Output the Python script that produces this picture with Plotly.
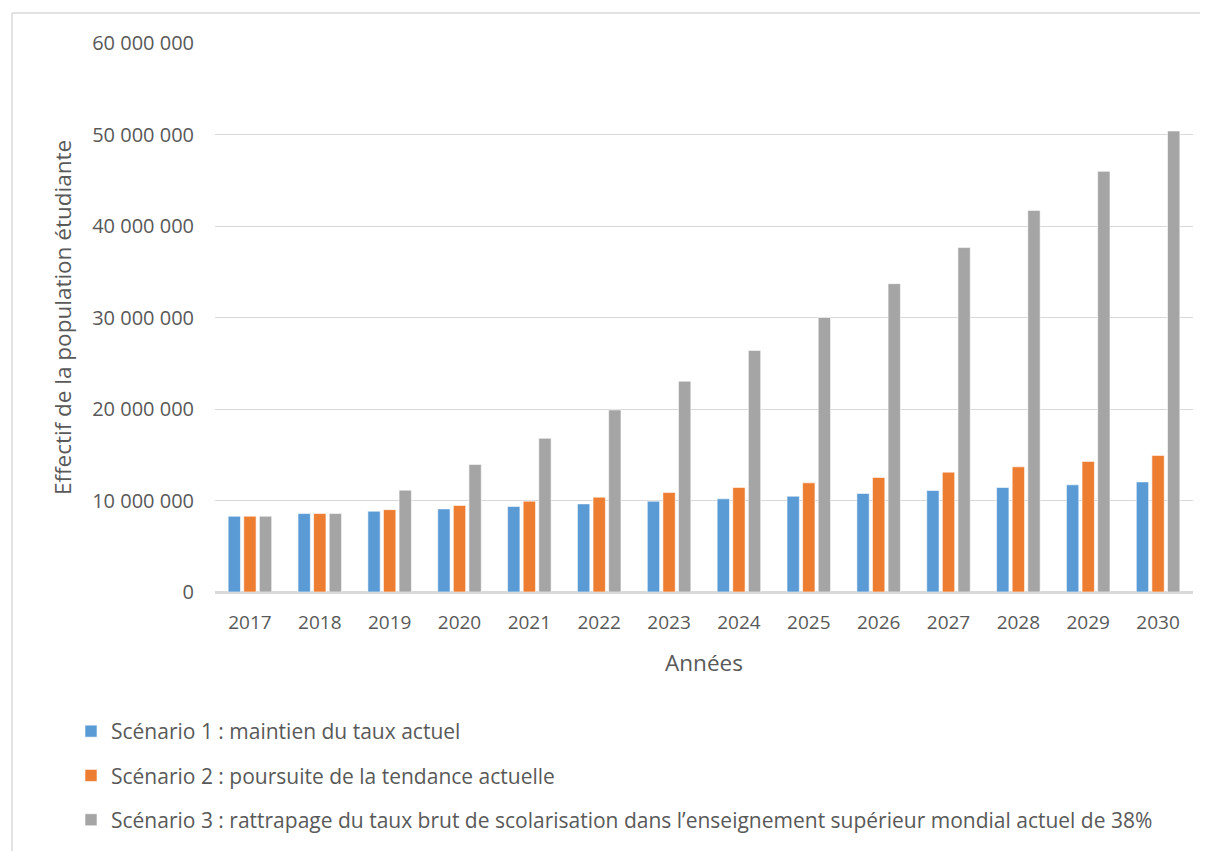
import plotly.graph_objects as go

years = ["2017", "2018", "2019", "2020", "2021", "2022", "2023", "2024",
         "2025", "2026", "2027", "2028", "2029", "2030"]
scenario1 = [8280000, 8570000, 8830000, 9080000, 9340000, 9630000, 9920000,
             10180000, 10470000, 10770000, 11090000, 11420000, 11710000, 12030000]
scenario2 = [8280000, 8570000, 9000000, 9450000, 9920000, 10360000, 10870000,
             11420000, 11930000, 12520000, 13100000, 13680000, 14270000, 14920000]
scenario3 = [8280000, 8570000, 11130000, 13940000, 16800000, 19900000, 23030000,
             26400000, 30000000, 33700000, 37640000, 41700000, 45970000, 50380000]
names = [
    "Scénario 1 : maintien du taux actuel",
    "Scénario 2 : poursuite de la tendance actuelle",
    "Scénario 3 : rattrapage du taux brut de scolarisation dans l\u2019enseignement supérieur mondial actuel de 38%",
]
colors = ["#5b9bd5", "#ed7d31", "#a5a5a5"]
y_ticks = [0, 10000000, 20000000, 30000000, 40000000, 50000000, 60000000]

FONT = "Open Sans"
TXT = "#595959"

fig = go.Figure()
for i, (vals, name, col) in enumerate(zip([scenario1, scenario2, scenario3], names, colors)):
    fig.add_trace(go.Bar(
        x=years, y=vals, name=name, legendgroup=f"g{i}",
        marker=dict(color=col, line=dict(color="rgba(255,255,255,0.7)", width=0.8)),
    ))

# page has an 8px body margin, so the figure is drawn at (8, 8)
W, H = 1200, 843
L, R, T, B = 207, 15, 35, 259
pw, ph = W - L - R, H - T - B

def py(y_px):
    # figure pixel y -> paper y
    return (T + ph - y_px) / ph

def px(x_px):
    return (x_px - L) / pw

border = dict(color="#d9d9d9", width=1.5)

fig.update_layout(
    width=W, height=H,
    margin=dict(l=L, r=R, t=T, b=B, autoexpand=False),
    paper_bgcolor="white", plot_bgcolor="white",
    separators=", ",
    barmode="group", bargap=0.33, bargroupgap=0.21,
    font=dict(family=FONT, size=19, color=TXT),
    showlegend=True,
    legend=dict(
        orientation="v", x=px(63), xanchor="left",
        y=py(703), yanchor="top",
        font=dict(family=FONT, size=21, color=TXT),
        tracegroupgap=14, itemwidth=30,
        bgcolor="rgba(0,0,0,0)",
    ),
    xaxis=dict(
        type="category", showgrid=False, showline=True, linecolor="#d9d9d9", linewidth=1.5,
        ticks="", ticklabelstandoff=12, tickfont=dict(family=FONT, size=19, color=TXT),
        title=dict(text="Années", font=dict(family=FONT, size=22.5, color=TXT), standoff=22),
        automargin=False,
    ),
    yaxis=dict(
        range=[0, 60000000], tickvals=y_ticks, tickformat=",d",
        showgrid=True, gridcolor="#d9d9d9", gridwidth=1.3,
        zeroline=True, zerolinecolor="#d9d9d9", zerolinewidth=1.5,
        showline=False, ticks="", ticklabelstandoff=20,
        tickfont=dict(family=FONT, size=20, color=TXT),
        title=dict(text="Effectif de la population étudiante",
                   font=dict(family=FONT, size=22.5, color=TXT), standoff=14),
        automargin=False,
    ),
    shapes=[
        dict(type="line", xref="paper", yref="paper",
             x0=px(4), x1=px(4), y0=py(860), y1=py(5), line=border),
        dict(type="line", xref="paper", yref="paper",
             x0=px(4), x1=px(1210), y0=py(5), y1=py(5), line=border),
    ],
)

fig.write_html("out.html")
